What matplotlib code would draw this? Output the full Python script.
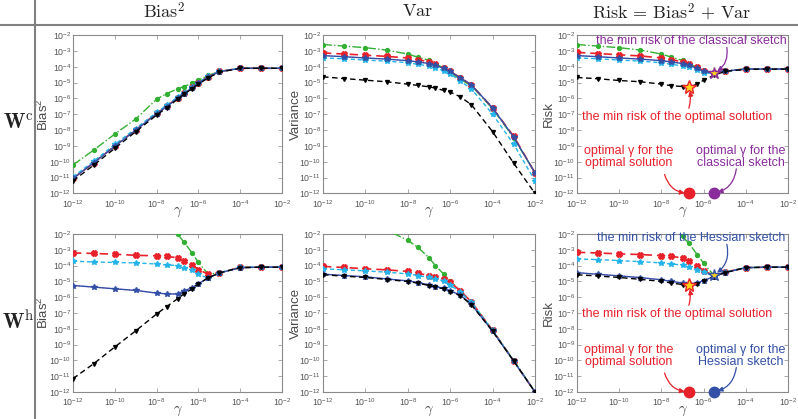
import numpy as np
import matplotlib
matplotlib.use('Agg')
import matplotlib.pyplot as plt
from matplotlib.lines import Line2D
from matplotlib.ticker import FixedLocator, FuncFormatter, NullLocator

plt.rcParams['font.family'] = ['Liberation Sans', 'DejaVu Sans']
plt.rcParams['mathtext.fontset'] = 'custom'
plt.rcParams['mathtext.rm'] = 'Liberation Sans'
plt.rcParams['mathtext.it'] = 'Liberation Sans:italic'

# gamma grid (x of every marker)
gamma = [1e-12, 1e-11, 1e-10, 1e-9, 1e-8, 3e-8, 1e-7, 2e-7, 5e-7, 1e-6,
         3e-6, 1e-5, 1e-4, 1e-3, 1e-2]

# all values below are log10 of what is read off the picture
# --- W^c, Bias^2
green_bias_c = [-10.2, -9.25, -8.25, -7.3, -6.05, -5.7, -5.4, -5.25, -5.05, -4.85, -4.55, -4.3, -4.1, -4.1, -4.1]
red_bias_c = [-11.05, -10.05, -9.0, -7.98, -6.95, -6.5, -5.97, -5.68, -5.3, -5.02, -4.62, -4.3, -4.1, -4.1, -4.1]
cyan_bias_c = [-10.95, -9.95, -8.9, -7.9, -6.88, -6.43, -5.92, -5.63, -5.27, -5.0, -4.6, -4.3, -4.1, -4.1, -4.1]
blue_bias_c = [-11.05, -10.05, -9.02, -8.0, -6.97, -6.52, -5.99, -5.7, -5.32, -5.04, -4.64, -4.32, -4.1, -4.1, -4.1]
black_bias_c = [-11.2, -10.2, -9.15, -8.1, -7.05, -6.6, -6.05, -5.75, -5.38, -5.1, -4.7, -4.35, -4.1, -4.1, -4.1]

# --- W^c, Var
green_var_c = [-2.6, -2.7, -2.8, -2.95, -3.2, -3.4, -3.6, -3.8, -4.1, -4.35, -4.8, -5.2, -6.65, -8.5, -10.7]
red_var_c = [-3.13, -3.2, -3.27, -3.35, -3.45, -3.55, -3.7, -3.85, -4.1, -4.3, -4.7, -5.15, -6.6, -8.4, -10.7]
cyan_var_c = [-3.45, -3.5, -3.58, -3.65, -3.75, -3.85, -3.95, -4.08, -4.25, -4.45, -4.9, -5.4, -7.0, -8.9, -11.2]
blue_var_c = [-3.3, -3.37, -3.45, -3.52, -3.62, -3.7, -3.8, -3.92, -4.1, -4.3, -4.7, -5.15, -6.6, -8.45, -10.7]
black_var_c = [-4.64, -4.75, -4.85, -4.95, -5.1, -5.18, -5.27, -5.35, -5.5, -5.6, -5.9, -6.4, -8.1, -10.1, -12.0]

# --- W^c, Risk
green_risk_c = [-2.6, -2.7, -2.8, -2.95, -3.2, -3.4, -3.6, -3.8, -4.05, -4.25, -4.35, -4.25, -4.15, -4.15, -4.15]
red_risk_c = [-3.1, -3.17, -3.25, -3.32, -3.45, -3.55, -3.7, -3.85, -4.05, -4.25, -4.38, -4.27, -4.15, -4.15, -4.15]
cyan_risk_c = [-3.45, -3.5, -3.58, -3.65, -3.75, -3.85, -3.95, -4.05, -4.22, -4.4, -4.42, -4.3, -4.15, -4.15, -4.15]
blue_risk_c = [-3.3, -3.37, -3.45, -3.52, -3.62, -3.7, -3.8, -3.92, -4.1, -4.3, -4.4, -4.28, -4.15, -4.15, -4.15]
black_risk_c = [-4.68, -4.76, -4.87, -4.95, -5.1, -5.2, -5.25, -5.28, -5.1, -4.85, -4.55, -4.3, -4.17, -4.15, -4.15]

# --- W^h, Bias^2
nan = np.nan
green_bias_h = [nan, nan, nan, nan, nan, nan, -2.0, -2.5, -3.2, -3.8, -4.55, -4.45, -4.12, -4.1, -4.1]
red_bias_h = [-3.2, -3.23, -3.28, -3.35, -3.38, -3.42, -3.5, -3.7, -3.95, -4.25, -4.55, -4.45, -4.12, -4.1, -4.1]
cyan_bias_h = [-3.72, -3.77, -3.8, -3.83, -3.9, -3.95, -4.0, -4.13, -4.3, -4.55, -4.8, -4.45, -4.12, -4.1, -4.1]
blue_bias_h = [-5.26, -5.36, -5.47, -5.57, -5.74, -5.79, -5.8, -5.6, -5.4, -5.15, -4.77, -4.47, -4.13, -4.1, -4.1]
black_bias_h = [-11.15, -10.2, -9.15, -8.13, -7.06, -6.6, -6.1, -5.8, -5.47, -5.15, -4.77, -4.47, -4.13, -4.1, -4.1]

# --- W^h, Var
green_var_h = [-0.5, -0.8, -1.2, -1.75, -2.4, -2.85, -3.5, -4.0, -4.55, -4.97, -5.6, -6.3, -8.1, -10.0, -12.0]
red_var_h = [-4.05, -4.12, -4.2, -4.27, -4.37, -4.48, -4.63, -4.7, -4.84, -5.05, -5.6, -6.3, -8.1, -10.05, -12.0]
cyan_var_h = [-4.2, -4.27, -4.33, -4.42, -4.52, -4.63, -4.75, -4.84, -4.97, -5.22, -5.69, -6.32, -8.1, -10.05, -12.0]
blue_var_h = [-4.54, -4.63, -4.71, -4.84, -4.97, -5.07, -5.22, -5.33, -5.43, -5.6, -5.86, -6.45, -8.15, -10.05, -12.0]
black_var_h = [-4.58, -4.67, -4.75, -4.88, -5.01, -5.11, -5.26, -5.37, -5.47, -5.64, -5.9, -6.48, -8.15, -10.05, -12.0]

# --- W^h, Risk
green_risk_h = [nan, nan, nan, nan, nan, -1.5, -2.15, -2.6, -3.3, -3.85, -4.6, -4.42, -4.13, -4.1, -4.1]
red_risk_h = [-3.16, -3.2, -3.26, -3.3, -3.37, -3.41, -3.52, -3.68, -4.0, -4.32, -4.63, -4.42, -4.13, -4.1, -4.1]
cyan_risk_h = [-3.58, -3.62, -3.68, -3.75, -3.83, -3.9, -3.96, -4.1, -4.25, -4.42, -4.63, -4.42, -4.13, -4.1, -4.1]
blue_risk_h = [-4.45, -4.55, -4.65, -4.76, -4.9, -5.0, -5.1, -5.15, -5.1, -4.95, -4.7, -4.45, -4.13, -4.1, -4.1]
black_risk_h = [-4.58, -4.66, -4.75, -4.87, -5.0, -5.1, -5.2, -5.25, -5.15, -4.95, -4.7, -4.45, -4.13, -4.1, -4.1]

# optimum indices on the gamma grid
opt_idx = 7       # optimal solution
sketch_idx = 10   # classical / Hessian sketch

RED = '#e8202a'
GREEN = '#33b033'
CYAN = '#22b4ea'
BLUE = '#3350a6'
MAG = '#d048c8'
PURPLE = '#8a2c9c'
GRAY = '#4a4a4a'

styles = {
    'green': dict(color=GREEN, ls='-.', marker='o', ms=2.8, lw=1.0, zorder=3),
    'red': dict(color=RED, ls=(0, (5, 3)), marker='X', ms=3.8, lw=1.2, zorder=3),
    'cyan': dict(color=CYAN, ls=(0, (3, 2)), marker='*', ms=4.2, lw=1.0, zorder=3),
    'mag': dict(color=MAG, ls=':', marker=None, lw=0.8, zorder=2),
    'blue': dict(color=BLUE, ls='-', marker='*', ms=4.2, lw=1.0, zorder=3),
    'black': dict(color='k', ls=(0, (4, 2.5)), marker='v', ms=2.8, lw=1.0, zorder=4),
}

W, H = 798, 419
fig = plt.figure(figsize=(W / 100, H / 100), dpi=100)

def box(x0, y0, x1, y1):
    return [x0 / W, 1 - y1 / H, (x1 - x0) / W, (y1 - y0) / H]

cols = [(73, 282), (323, 535), (577, 788)]
rows = [(35, 193.5), (234, 392)]
ylabels = [r'Bias$^2$', 'Variance', 'Risk']
ylabel_right = [51, 302, 555]   # pixel x of the right side of each y label

panel_data = [
    [(green_bias_c, red_bias_c, cyan_bias_c, blue_bias_c, black_bias_c),
     (green_var_c, red_var_c, cyan_var_c, blue_var_c, black_var_c),
     (green_risk_c, red_risk_c, cyan_risk_c, blue_risk_c, black_risk_c)],
    [(green_bias_h, red_bias_h, cyan_bias_h, blue_bias_h, black_bias_h),
     (green_var_h, red_var_h, cyan_var_h, blue_var_h, black_var_h),
     (green_risk_h, red_risk_h, cyan_risk_h, blue_risk_h, black_risk_h)],
]

axes = [[None] * 3 for _ in range(2)]
for r, (y0, y1) in enumerate(rows):
    for c, (x0, x1) in enumerate(cols):
        ax = fig.add_axes(box(x0, y0, x1, y1))
        axes[r][c] = ax
        g, rd, cy, bl, bk = [np.power(10.0, np.array(v)) for v in panel_data[r][c]]
        ax.plot(gamma, g, **styles['green'])
        ax.plot(gamma, rd, **styles['red'])
        ax.plot(gamma, cy, **styles['cyan'])
        ax.plot(gamma, bl, **styles['mag'])
        ax.plot(gamma, bl, **styles['blue'])
        ax.plot(gamma, bk, **styles['black'])
        ax.set_xscale('log')
        ax.set_yscale('log')
        ax.set_xlim(1e-12, 1e-2)
        ax.set_ylim(1e-12, 1e-2)
        ax.xaxis.set_major_locator(FixedLocator([10.0 ** e for e in range(-12, -1, 2)]))
        ax.yaxis.set_major_locator(FixedLocator([10.0 ** e for e in range(-12, -1)]))
        ax.xaxis.set_minor_locator(NullLocator())
        ax.yaxis.set_minor_locator(NullLocator())
        fmt = FuncFormatter(lambda v, p: r'$10^{%d}$' % int(round(np.log10(v))))
        ax.xaxis.set_major_formatter(fmt)
        ax.yaxis.set_major_formatter(fmt)
        ax.tick_params(direction='in', top=True, right=True, length=3, width=0.6,
                       labelsize=6.3, colors='#9a9a9a', labelcolor='#555555', pad=1.2)
        ax.tick_params(axis='x', pad=3.4)
        for s in ax.spines.values():
            s.set_color('#8a8a8a')
            s.set_linewidth(0.8)
        ax.set_ylabel(ylabels[c], fontsize=9.5, color=GRAY)
        ax.yaxis.set_label_coords((ylabel_right[c] - x0) / (x1 - x0), 0.5)
        ax.set_xlabel(r'$\gamma$', fontsize=10.5, color=GRAY, labelpad=-3.5,
                      math_fontfamily='cm')

def P(L, e):
    return (10.0 ** L, 10.0 ** e)

def arrow(ax, start, end, color, rad):
    ax.annotate('', xy=end, xytext=start, annotation_clip=False,
                arrowprops=dict(arrowstyle='-|>', color=color, lw=0.9,
                                mutation_scale=7, shrinkA=0, shrinkB=3,
                                connectionstyle='arc3,rad=%s' % rad))

# annotations on the two risk panels
names = [('classical', PURPLE), ('Hessian', BLUE)]
risk_sk = [cyan_risk_c, green_risk_h]
risk_opt = [black_risk_c, black_risk_h]
for r in range(2):
    ax = axes[r][2]
    name, col = names[r]
    g_opt = gamma[opt_idx]
    g_sk = gamma[sketch_idx]
    star_opt = (g_opt, 10.0 ** risk_opt[r][opt_idx])
    star_sk = (g_sk, 10.0 ** risk_sk[r][sketch_idx])
    ax.plot(*star_opt, marker='*', ms=10, mfc='#ffd21a', mec=RED, mew=1.0, zorder=6)
    ax.plot(*star_sk, marker='*', ms=9, mfc='#ffd21a', mec=col, mew=1.0, zorder=6)
    ax.plot(g_opt, 1e-12, 'o', ms=7.5, color=RED, clip_on=False, zorder=7)
    ax.plot(g_sk, 1e-12, 'o', ms=7.5, color=col, clip_on=False, zorder=7)

    top_y = -2.38 if r == 0 else -2.25
    mid_y = -7.17 if r == 0 else -7.06
    ax.text(*P(-6.6, top_y), 'the min risk of the %s sketch' % name, color=col,
            fontsize=9, ha='center', va='center', zorder=8)
    ax.text(*P(-7.25, mid_y), 'the min risk of the optimal solution',
            color=RED, fontsize=9, ha='center', va='center')
    ax.text(*P(-9.55, -9.7), 'optimal \u03b3 for the\noptimal solution', color=RED,
            fontsize=9, ha='center', va='center', linespacing=1.0)
    ax.text(*P(-4.25, -9.7), 'optimal \u03b3 for the\n%s sketch' % name, color=col,
            fontsize=9, ha='center', va='center', linespacing=1.0)

    arrow(ax, P(-4.9, top_y - 0.4), star_sk, col, -0.35)
    arrow(ax, P(-6.7, mid_y + 0.55), star_opt, RED, 0.15)
    arrow(ax, P(-7.85, -10.8), (g_opt, 1e-12), RED, 0.35)
    arrow(ax, P(-4.45, -10.45), (g_sk, 1e-12), col, -0.35)

# table frame
fig.add_artist(Line2D([0, 1], [1 - 25 / H, 1 - 25 / H], color='#808080', lw=1.5))
fig.add_artist(Line2D([35 / W, 35 / W], [0, 1], color='#808080', lw=1.5))

head_y = 1 - 12 / H
fig.text(164 / W, head_y, r'$\mathrm{Bias}^2$', fontsize=13, ha='center', va='center',
         math_fontfamily='cm', color='#222222')
fig.text(418 / W, head_y, r'$\mathrm{Var}$', fontsize=13, ha='center', va='center',
         math_fontfamily='cm', color='#222222')
fig.text(672 / W, head_y, r'$\mathrm{Risk}\,=\,\mathrm{Bias}^2\,+\,\mathrm{Var}$', fontsize=13,
         ha='center', va='center', math_fontfamily='cm', color='#222222')
fig.text(18 / W, 1 - 123 / H, r'$\mathbf{W}^{\mathrm{c}}$', fontsize=15, ha='center',
         va='center', math_fontfamily='cm', color='#222222')
fig.text(18 / W, 1 - 321 / H, r'$\mathbf{W}^{\mathrm{h}}$', fontsize=15, ha='center',
         va='center', math_fontfamily='cm', color='#222222')

fig.savefig('out.png', dpi=100)
